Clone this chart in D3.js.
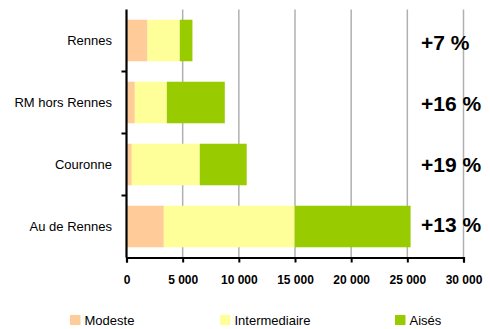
<!DOCTYPE html>
<html>
<head>
<meta charset="utf-8">
<script src="https://cdn.jsdelivr.net/npm/d3@7"></script>
<style>
  html, body { margin: 0; padding: 0; background: #fff; }
  svg { display: block; font-family: "Liberation Sans", Arial, sans-serif; }
</style>
</head>
<body>
<svg id="chart" width="490" height="329"></svg>
<script>
// Household groups and number of households per income class
const categories = ["Rennes", "RM hors Rennes", "Couronne", "Au de Rennes"];
const modeste = [1870, 740, 470, 3320];
const intermediaire = [2870, 2850, 6050, 11650];
const aises = [1130, 5160, 4180, 10320];
const growthLabels = ["+7 %", "+16 %", "+19 %", "+13 %"];
const xTicks = [0, 5000, 10000, 15000, 20000, 25000, 30000];
const seriesNames = ["Modeste", "Intermediaire", "Aisés"];
const seriesColors = ["#FFCC99", "#FFFF99", "#99CC00"];

const svg = d3.select("#chart");
const plotLeft = 126.5, plotRight = 463.5, plotTop = 9.5, plotBottom = 257.5;

const x = d3.scaleLinear().domain([0, 30000]).range([plotLeft, plotRight]);
const y = d3.scaleBand().domain(categories).range([plotTop, plotBottom]).paddingInner(0.33).paddingOuter(0.165);
const yLabel = d3.scalePoint().domain(categories).range([43, 225]);

const rows = categories.map((c, i) => ({
  cat: c, Modeste: modeste[i], Intermediaire: intermediaire[i], "Aisés": aises[i]
}));
const stacked = d3.stack().keys(seriesNames)(rows);

// vertical gridlines
svg.append("g").selectAll("line")
  .data(xTicks.slice(1))
  .join("line")
  .attr("x1", d => x(d)).attr("x2", d => x(d))
  .attr("y1", plotTop).attr("y2", plotBottom)
  .attr("stroke", "#b0b0b0").attr("stroke-width", 1.5);

// stacked bars
svg.append("g").selectAll("g")
  .data(stacked)
  .join("g")
  .attr("fill", (d, i) => seriesColors[i])
  .selectAll("rect")
  .data(d => d)
  .join("rect")
  .attr("x", d => x(d[0]))
  .attr("width", d => x(d[1]) - x(d[0]))
  .attr("y", d => y(d.data.cat))
  .attr("height", y.bandwidth());

// x axis
const xAxis = svg.append("g")
  .attr("transform", `translate(0,${plotBottom})`)
  .call(d3.axisBottom(x).tickValues(xTicks).tickSizeInner(5).tickSizeOuter(5)
    .tickFormat(d => d3.format(",")(d).replace(/,/g, " ")));
xAxis.select(".domain").attr("stroke", "#000").attr("stroke-width", 2.2);
xAxis.selectAll(".tick line").attr("stroke", "#000").attr("stroke-width", 2);
xAxis.selectAll(".tick text")
  .attr("y", 17.5).attr("dy", "0.71em")
  .attr("font-size", 12).attr("font-weight", "bold").attr("fill", "#000")
  .attr("font-family", "'Liberation Sans', Arial, sans-serif");

// y axis: ticks sit on the boundaries between categories
const yAxisG = svg.append("g");
yAxisG.append("line")
  .attr("x1", plotLeft).attr("x2", plotLeft).attr("y1", plotTop).attr("y2", plotBottom)
  .attr("stroke", "#000").attr("stroke-width", 2.2);
const step = y.step();
yAxisG.selectAll("line.tk")
  .data(categories.slice(1))
  .join("line").attr("class", "tk")
  .attr("x1", plotLeft - 5).attr("x2", plotLeft)
  .attr("y1", d => y(d) - (step - y.bandwidth()) / 2)
  .attr("y2", d => y(d) - (step - y.bandwidth()) / 2)
  .attr("stroke", "#000").attr("stroke-width", 2);
yAxisG.selectAll("text")
  .data(categories)
  .join("text")
  .attr("x", 112)
  .attr("y", d => y(d) + y.bandwidth() / 2)
  .attr("dy", "0.35em")
  .attr("text-anchor", "end")
  .attr("font-size", 13)
  .attr("fill", "#000")
  .text(d => d);

// growth labels
svg.append("g").selectAll("text")
  .data(categories)
  .join("text")
  .attr("x", 421)
  .attr("y", d => yLabel(d))
  .attr("dy", "0.35em")
  .attr("font-size", 21)
  .attr("font-weight", "bold")
  .attr("fill", "#000")
  .text((d, i) => growthLabels[i]);

// legend
const legendX = [70, 220, 395];
const legend = svg.append("g").selectAll("g")
  .data(seriesNames)
  .join("g")
  .attr("transform", (d, i) => `translate(${legendX[i]},315)`);
legend.append("rect").attr("width", 10.5).attr("height", 10).attr("fill", (d, i) => seriesColors[i]);
legend.append("text")
  .attr("x", 14.5).attr("y", 5).attr("dy", "0.35em")
  .attr("font-size", 13).attr("fill", "#000")
  .text(d => d);
</script>
</body>
</html>
